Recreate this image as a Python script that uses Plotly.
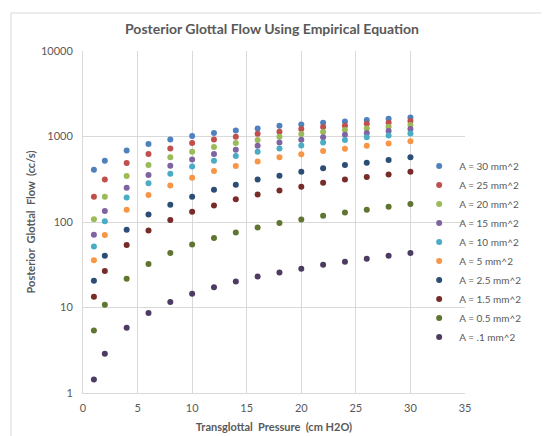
import plotly.graph_objects as go

pressure = [1, 2, 4, 6, 8, 10, 12, 14, 16, 18, 20, 22, 24, 26, 28, 30]

flow_30 = [409, 521, 688, 817, 925, 1013, 1099, 1178, 1244, 1337, 1386, 1450, 1502, 1560, 1616, 1673]
flow_25 = [198, 315, 490, 624, 726, 839, 925, 995, 1079, 1137, 1224, 1291, 1337, 1413, 1450, 1518]
flow_20 = [108, 198, 345, 464, 570, 664, 754, 839, 910, 995, 1070, 1129, 1191, 1244, 1302, 1362]
flow_15 = [71, 134.5, 252, 354, 455, 540, 624, 701, 780, 853, 918, 977, 1050, 1099, 1160, 1224]
flow_10 = [51.8, 102, 194, 283, 367, 447, 521, 592, 664, 726, 787, 853, 910, 977, 1030, 1087]
flow_5 = [35.6, 70.5, 139, 207, 268, 330, 395, 452, 511, 570, 618, 677, 720, 780, 830, 877]
flow_2_5 = [20.6, 40.4, 81.3, 122, 159, 198, 239, 273, 315, 348, 388, 424, 464, 494, 531, 570]
flow_1_5 = [13.4, 26.7, 53.8, 79.8, 105.5, 132, 156, 184, 210, 234, 259, 288, 315, 336, 360, 388]
flow_0_5 = [5.4, 10.8, 21.7, 32.3, 43.4, 54.7, 65, 75.5, 86.5, 97.3, 107, 118.5, 129.5, 139, 151, 162]
flow_0_1 = [1.44, 2.88, 5.8, 8.6, 11.6, 14.5, 17.2, 20.2, 23.1, 25.7, 28.4, 31.7, 34.3, 37.2, 40.4, 43.4]

series_names = ["A = 30 mm^2", "A = 25 mm^2", "A = 20 mm^2", "A = 15 mm^2", "A = 10 mm^2",
                "A = 5 mm^2", "A = 2.5 mm^2", "A = 1.5 mm^2", "A = 0.5 mm^2", "A = .1 mm^2"]
series_values = [flow_30, flow_25, flow_20, flow_15, flow_10, flow_5, flow_2_5, flow_1_5, flow_0_5, flow_0_1]
colors = ["#4F81BD", "#C0504D", "#9BBB59", "#8064A2", "#4BACC6",
          "#F79646", "#2C4D75", "#772C2A", "#5F7530", "#4D3B62"]

FONT = "Lato, 'Open Sans', sans-serif"
GRAY = "#595959"

# the page body has an 8px default margin, so the figure is drawn 8px smaller
W, H = 541, 428

fig = go.Figure()
for name, vals, col in zip(series_names, series_values, colors):
    fig.add_trace(go.Scatter(
        x=pressure, y=vals, mode="markers", name=name,
        marker=dict(size=6, color=col),
    ))

fig.update_layout(
    width=W, height=H,
    margin=dict(l=75, r=84, t=43, b=43),
    paper_bgcolor="white", plot_bgcolor="white",
    font=dict(family=FONT, color=GRAY, size=11),
    title=dict(text="<b>Posterior Glottal Flow Using Empirical Equation</b>",
               x=264 / W, xanchor="center", y=1 - 21 / H, yanchor="middle",
               font=dict(size=14, color=GRAY, family=FONT)),
    showlegend=True,
    legend=dict(x=0.88, xanchor="left", y=0.706, yanchor="top",
                font=dict(size=10, color=GRAY, family=FONT),
                itemwidth=30, tracegroupgap=0, bgcolor="rgba(0,0,0,0)"),
    xaxis=dict(range=[0, 35], dtick=5, tick0=0, automargin=False,
               showgrid=True, gridcolor="#D9D9D9", gridwidth=1,
               showline=True, linecolor="#D9D9D9", zeroline=False,
               ticks="", ticklabelstandoff=5,
               tickfont=dict(size=11, color=GRAY, family=FONT),
               title=dict(text="<b>Transglottal  Pressure  (cm H2O)</b>",
                          font=dict(size=11, color=GRAY, family=FONT), standoff=10)),
    yaxis=dict(type="log", range=[0, 4], automargin=False,
               tickvals=[1, 10, 100, 1000, 10000], ticktext=["1", "10", "100", "1000", "10000"],
               showgrid=True, gridcolor="#D9D9D9", gridwidth=1,
               showline=True, linecolor="#D9D9D9", zeroline=False,
               ticks="", ticklabelstandoff=7,
               tickfont=dict(size=11, color=GRAY, family=FONT),
               title=dict(text="<b>Posterior  Glottal  Flow  (cc/s)</b>",
                          font=dict(size=11, color=GRAY, family=FONT), standoff=3)),
    shapes=[dict(type="rect", xref="paper", yref="paper",
                 x0=(11 - 83) / 382, x1=(560 - 83) / 382,
                 y0=-(450 - 393) / 342, y1=1 + (51 - 13) / 342,
                 line=dict(color="#D9D9D9", width=1), fillcolor="rgba(0,0,0,0)",
                 layer="below")],
)

fig.write_html("out.html")
